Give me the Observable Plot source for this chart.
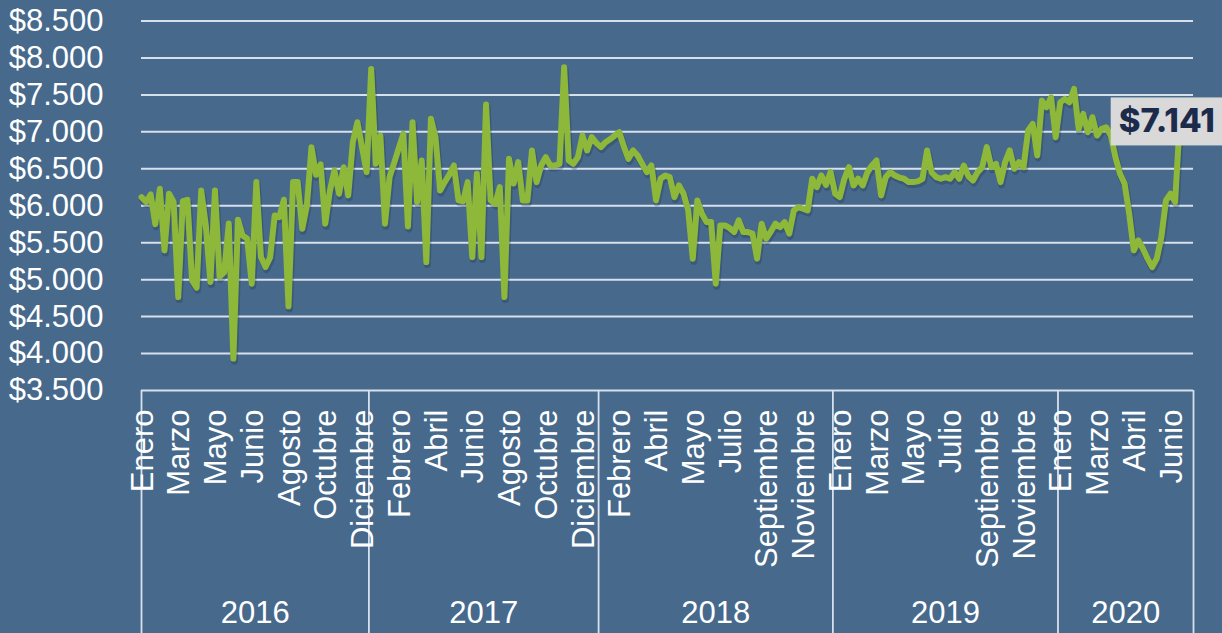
<!DOCTYPE html>
<html>
<head>
<meta charset="utf-8">
<script src="https://cdn.jsdelivr.net/npm/d3@7"></script>
<script src="https://cdn.jsdelivr.net/npm/@observablehq/plot@0.6"></script>
<style>
  html, body { margin: 0; padding: 0; background: #46698C; overflow: hidden; }
  #chart svg { display: block; }
</style>
</head>
<body>
<div id="chart"></div>
<script>
// Weekly price series (one value per category/week), Jan 2016 – mid 2020
const prices = [
  6117, 6050, 6153, 5750, 6230, 5396, 6162, 6050, 4765, 6063,
  6080, 4990, 4892, 6207, 5734, 4968, 6207, 5040, 5100, 5760,
  3932, 5811, 5599, 5554, 4946, 6320, 5306, 5171, 5300, 5869,
  5847, 6081, 4639, 6320, 6320, 5689, 6004, 6793, 6420, 6560,
  5757, 6200, 6477, 6162, 6522, 6140, 6860, 7130, 6793, 6455,
  7851, 6567, 6950, 5757, 6387, 6580, 6780, 6973, 5720, 7130,
  6050, 6612, 5238, 7176, 6928, 6207, 6320, 6420, 6545, 6072,
  6060, 6320, 5306, 6432, 5306, 7370, 6072, 6027, 6252, 4765,
  6635, 6300, 6590, 6072, 6072, 6748, 6320, 6545, 6658, 6545,
  6545, 6567, 7874, 6612, 6567, 6658, 6950, 6748, 6928, 6850,
  6793, 6860, 6900, 6950, 6995, 6800, 6635, 6748, 6680, 6567,
  6455, 6545, 6072, 6365, 6410, 6387, 6117, 6275, 6162, 5937,
  5284, 6072, 5892, 5779, 5779, 4946, 5734, 5734, 5700, 5644,
  5802, 5644, 5644, 5622, 5284, 5757, 5554, 5650, 5757, 5711,
  5779, 5622, 5937, 5982, 5960, 5937, 6365, 6252, 6410, 6280,
  6455, 6162, 6117, 6365, 6522, 6275, 6365, 6275, 6450, 6545,
  6612, 6140, 6387, 6455, 6410, 6380, 6365, 6320, 6320, 6330,
  6365, 6748, 6450, 6387, 6365, 6387, 6365, 6455, 6365, 6545,
  6400, 6342, 6455, 6522, 6793, 6522, 6567, 6320, 6590, 6748,
  6500, 6590, 6522, 7018, 7108, 6680, 7423, 7333, 7468, 6928,
  7400, 7446, 7400, 7581, 7040, 7243, 6995, 7198, 6950, 7040,
  7063, 6950, 6658, 6432, 6297, 5892, 5396, 5531, 5419, 5284,
  5171, 5284, 5576, 6072, 6162, 6050, 7141
];

// Category axis: years with number of weekly categories in each
const yearLabels = ["2016", "2017", "2018", "2019", "2020"];
const yearCounts = [50, 50, 51, 49, 30];

// Month tick labels shown every `labelInterval` categories
const labelInterval = 8;
const monthLabels = [
  "Enero", "Marzo", "Mayo", "Junio", "Agosto", "Octubre", "Diciembre",
  "Febrero", "Abril", "Junio", "Agosto", "Octubre", "Diciembre",
  "Febrero", "Abril", "Mayo", "Julio", "Septiembre", "Noviembre",
  "Enero", "Marzo", "Mayo", "Julio", "Septiembre", "Noviembre",
  "Enero", "Marzo", "Abril", "Junio"
];

// Value axis ticks
const yTicks = [3500, 4000, 4500, 5000, 5500, 6000, 6500, 7000, 7500, 8000, 8500];

// ---- derived tables ----
const nCategories = d3.sum(yearCounts);
const data = prices.map((v, i) => ({i, v}));
const monthTicks = monthLabels.map((label, k) => ({i: k * labelInterval, label}));
const cum = [0, ...d3.cumsum(yearCounts)];
const bounds = cum.map(c => Math.min(Math.max(c - 0.5, 0), nCategories - 1));
const years = yearLabels.map((label, k) => ({label, mid: (bounds[k] + bounds[k + 1]) / 2}));
const last = data[data.length - 1];

const money = d => "$" + d3.format(",")(d).replace(/,/g, ".");

const W = 1222, H = 633;
const mTop = 20.5, mBottom = 243, mLeft = 141, mRight = 29;
const frameH = H - mTop - mBottom;

const lineColor = "#8DB83A";
const gridColor = "#D8E0EC";

const chart = Plot.plot({
  width: W,
  height: H,
  marginTop: mTop,
  marginBottom: mBottom,
  marginLeft: mLeft,
  marginRight: mRight,
  x: {domain: [0, nCategories - 1], axis: null},
  y: {domain: [3500, 8500], axis: null},
  style: {
    background: "#46698C",
    color: "white",
    fontFamily: "'Liberation Sans', Arial, sans-serif",
    overflow: "visible"
  },
  marks: [
    // horizontal gridlines
    Plot.ruleY(yTicks, {stroke: gridColor, strokeWidth: 2}),
    // y tick labels
    Plot.text(yTicks, {
      y: d => d, text: money, frameAnchor: "left", textAnchor: "end",
      dx: -38, fontSize: 31, fill: "white"
    }),
    // year group separators (below the plot)
    Plot.ruleX(bounds, {
      x: d => d, stroke: gridColor, strokeWidth: 1.8,
      insetTop: frameH, insetBottom: -mBottom
    }),
    // month labels
    Plot.text(monthTicks, {
      x: "i", text: "label", frameAnchor: "bottom", rotate: -90,
      textAnchor: "end", dx: 11, dy: 19, fontSize: 31, fill: "white"
    }),
    // year labels
    Plot.text(years, {
      x: "mid", text: "label", frameAnchor: "bottom",
      dy: 232, fontSize: 31, fill: "white"
    }),
    // line shadow
    Plot.line(data, {
      x: "i", y: "v", stroke: "#1b2e45", strokeOpacity: 0.28,
      strokeWidth: 7, dx: 1, dy: 2.5, strokeLinejoin: "round", strokeLinecap: "round"
    }),
    // price line
    Plot.line(data, {
      x: "i", y: "v", stroke: lineColor, strokeWidth: 6,
      strokeLinejoin: "round", strokeLinecap: "round"
    }),
    // last value annotation
    Plot.text([last], {
      x: "i", y: "v", text: d => money(d.v), dx: -13,
      fontSize: 33, fontWeight: 800, fill: "#1C2B4B",
      fontFamily: "Inter, 'Open Sans', sans-serif"
    })
  ]
});

document.getElementById("chart").appendChild(chart);

// grey box behind the last-value label, sized from the rendered text
const groups = chart.querySelectorAll("g[aria-label='text']");
const labelG = groups[groups.length - 1];
const t = labelG.querySelector("text");
const bb = t.getBBox();
const ctm = labelG.transform.baseVal.consolidate();
const ox = ctm ? ctm.matrix.e : 0, oy = ctm ? ctm.matrix.f : 0;
const tt = t.transform.baseVal.consolidate();
const tx = tt ? tt.matrix.e : 0, ty = tt ? tt.matrix.f : 0;
const rect = document.createElementNS("http://www.w3.org/2000/svg", "rect");
const boxH = 48;
rect.setAttribute("x", ox + tx + bb.x - 8);
rect.setAttribute("y", oy + ty - boxH / 2);
rect.setAttribute("width", bb.width + 24);
rect.setAttribute("height", boxH);
rect.setAttribute("fill", "#D9D9D9");
labelG.parentNode.insertBefore(rect, labelG);
</script>
</body>
</html>
